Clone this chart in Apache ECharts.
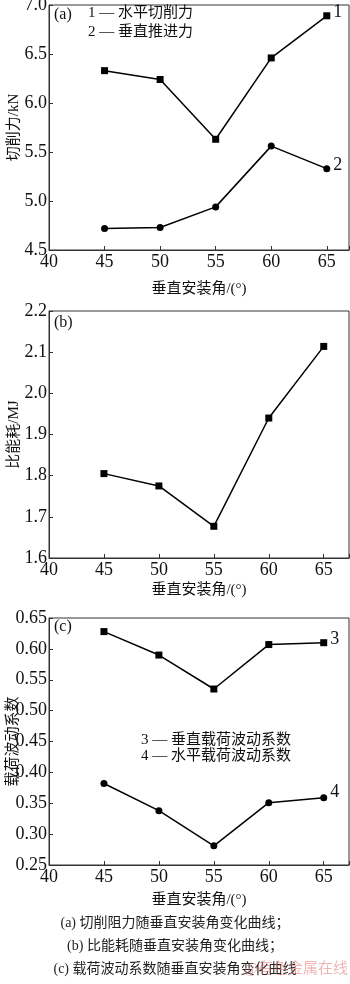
<!DOCTYPE html>
<html>
<head>
<meta charset="utf-8">
<script src="https://cdn.jsdelivr.net/npm/echarts@6/dist/echarts.min.js"></script>
<style>
  html, body { margin: 0; padding: 0; background: #fff; }
  #chart { width: 350px; height: 984px; }
</style>
</head>
<body>
<div id="chart"></div>
<script>
// Mounting angle (degrees) on the horizontal axis of all three panels
const angles = [45, 50, 55, 60, 65];

// (a) cutting forces, kN
const horizontalCutForce = [6.33, 6.24, 5.63, 6.46, 6.89];
const verticalThrustForce = [4.72, 4.73, 4.94, 5.56, 5.33];

// (b) specific energy, MJ
const specificEnergy = [1.805, 1.775, 1.677, 1.940, 2.114];

// (c) load fluctuation coefficients
const verticalLoadCoef = [0.628, 0.590, 0.535, 0.607, 0.610];
const horizontalLoadCoef = [0.382, 0.338, 0.281, 0.351, 0.359];

const FONT = '"Liberation Serif", "Noto Sans CJK SC", serif';
const AXIS_COLOR = '#333';

function pairs(ys) { return angles.map((a, i) => [a, ys[i]]); }

function xAxisFor(gridIndex, max, gap) {
  return {
    type: 'value', gridIndex, min: 40, max, interval: 5,
    name: '垂直安装角/(°)', nameLocation: 'middle', nameGap: gap, nameMoveOverlap: false,
    nameTextStyle: { fontFamily: FONT, fontSize: 15, color: '#111' },
    axisLine: { show: true, lineStyle: { color: AXIS_COLOR, width: 1 } },
    axisTick: { show: true, inside: true, length: 4, lineStyle: { color: AXIS_COLOR } },
    axisLabel: {
      fontFamily: FONT, fontSize: 18, color: '#111', margin: 3,
      formatter: v => (Math.abs(v % 5) < 1e-9 ? String(v) : '')
    },
    splitLine: { show: false }
  };
}

function yAxisFor(gridIndex, min, max, interval, name, gap, decimals) {
  return {
    type: 'value', gridIndex, min, max, interval,
    name, nameLocation: 'middle', nameGap: gap, nameRotate: 90, nameMoveOverlap: false,
    nameTextStyle: { fontFamily: FONT, fontSize: 15, color: '#111' },
    axisLine: { show: true, lineStyle: { color: AXIS_COLOR, width: 1 } },
    axisTick: { show: true, inside: true, length: 4, lineStyle: { color: AXIS_COLOR } },
    axisLabel: {
      fontFamily: FONT, fontSize: 18, color: '#111', margin: 2,
      formatter: v => v.toFixed(decimals)
    },
    splitLine: { show: false }
  };
}

function lineSeries(idx, ys, symbol, tag, offset) {
  return {
    type: 'line', xAxisIndex: idx, yAxisIndex: idx,
    data: pairs(ys), symbol, symbolSize: 7,
    lineStyle: { color: '#000', width: 1.5 },
    itemStyle: { color: '#000' },
    animation: false,
    label: {
      show: !!tag, position: 'right', distance: 3, offset: offset || [0, 0],
      fontFamily: FONT, fontSize: 18, color: '#111',
      formatter: p => (p.dataIndex === angles.length - 1 ? tag : '')
    }
  };
}

const chart = echarts.init(document.getElementById('chart'), null, { renderer: 'canvas' });

const gridBase = {
  show: true, left: 49, width: 300, containLabel: false, outerBoundsMode: 'none',
  borderColor: AXIS_COLOR, borderWidth: 1, backgroundColor: 'transparent'
};

chart.setOption({
  backgroundColor: '#fff',
  animation: false,
  grid: [
    Object.assign({}, gridBase, { top: 5, height: 245 }),
    Object.assign({}, gridBase, { top: 311, height: 247 }),
    Object.assign({}, gridBase, { top: 618, height: 247 })
  ],
  xAxis: [
    xAxisFor(0, 67, 32),
    xAxisFor(1, 67.3, 25),
    xAxisFor(2, 67.3, 28)
  ],
  yAxis: [
    yAxisFor(0, 4.5, 7.0, 0.5, '切削力/kN', 27, 1),
    yAxisFor(1, 1.6, 2.2, 0.1, '比能耗/MJ', 27, 1),
    yAxisFor(2, 0.25, 0.65, 0.05, '载荷波动系数', 28, 2)
  ],
  series: [
    lineSeries(0, horizontalCutForce, 'rect', '1', [0, -4]),
    lineSeries(0, verticalThrustForce, 'circle', '2', [0, -3]),
    lineSeries(1, specificEnergy, 'rect', '', null),
    lineSeries(2, verticalLoadCoef, 'rect', '3', [0, -3]),
    lineSeries(2, horizontalLoadCoef, 'circle', '4', [0, -5])
  ],
  graphic: [
    // panel tags
    { type: 'text', left: 54, top: 7, style: { text: '(a)', font: '16px ' + FONT, fill: '#111' } },
    { type: 'text', left: 54, top: 315, style: { text: '(b)', font: '16px ' + FONT, fill: '#111' } },
    { type: 'text', left: 54, top: 619, style: { text: '(c)', font: '16px ' + FONT, fill: '#111' } },
    // legend of panel (a)
    { type: 'text', left: 88, top: 6, style: { text: '1 — 水平切削力', font: '15px ' + FONT, fill: '#111' } },
    { type: 'text', left: 88, top: 25, style: { text: '2 — 垂直推进力', font: '15px ' + FONT, fill: '#111' } },
    // legend of panel (c)
    { type: 'text', left: 141, top: 733, style: { text: '3 — 垂直载荷波动系数', font: '15px ' + FONT, fill: '#111' } },
    { type: 'text', left: 141, top: 749, style: { text: '4 — 水平载荷波动系数', font: '15px ' + FONT, fill: '#111' } },
    // captions
    { type: 'text', left: 'center', top: 916, style: { text: '(a) 切削阻力随垂直安装角变化曲线；', font: '14px ' + FONT, fill: '#222' } },
    { type: 'text', left: 'center', top: 939, style: { text: '(b) 比能耗随垂直安装角变化曲线；', font: '14px ' + FONT, fill: '#222' } },
    { type: 'text', left: 'center', top: 962, style: { text: '(c) 载荷波动系数随垂直安装角变化曲线', font: '14px ' + FONT, fill: '#222' } },
    // source mark
    { type: 'text', right: 2, top: 962, style: { text: '@有色金属在线', font: '15px ' + FONT, fill: 'rgba(225,120,120,0.55)' } }
  ]
});
</script>
</body>
</html>
